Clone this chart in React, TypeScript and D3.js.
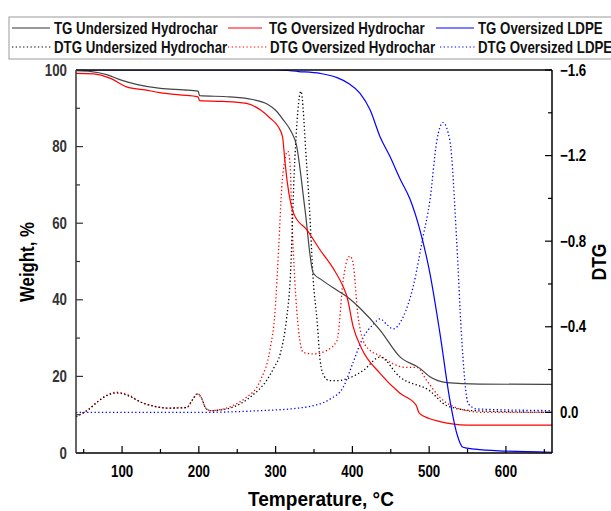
import React from 'react';
import * as d3 from 'd3';

// TG curves (weight %, left axis)
const tempTgUnder = [40, 60, 80, 100, 120, 150, 180, 199, 201, 240, 270, 290, 300, 310, 320, 327, 338, 349, 360, 380, 393, 410, 436, 462, 488, 501, 523, 566, 660];
const tgUnder = [99.8, 99.6, 98.8, 97.3, 96.2, 95.2, 94.8, 94.5, 93.3, 93.0, 92.3, 91.0, 89.5, 87.0, 84.0, 80.5, 64, 47, 45.2, 42.5, 40.8, 37.8, 32.1, 25.1, 22.1, 19.9, 18.4, 18.0, 17.9];

const tempTgOver = [40, 63, 85, 106, 130, 149, 175, 199, 201, 230, 262, 280, 293, 303, 309, 312, 315, 320, 324, 341, 358, 375, 388, 393, 401, 412, 436, 462, 483, 487, 500, 514, 549, 660];
const tgOver = [99.1, 99.0, 97.8, 95.6, 94.8, 94.1, 93.5, 93.0, 92.0, 91.8, 91.3, 89.6, 87.4, 85.3, 82.6, 76.5, 71, 65, 62.3, 58.2, 53, 48.2, 43.4, 40.8, 33, 27.3, 20.8, 15.6, 12.5, 10.4, 9.0, 8.2, 7.3, 7.3];

const tempTgLdpe = [40, 200, 300, 330, 358, 380, 395, 410, 423, 436, 449, 462, 475, 488, 501, 514, 527, 536, 544, 560, 600, 660];
const tgLdpe = [100, 100, 100, 99.6, 99.1, 98, 96.5, 93.9, 89.6, 82.6, 77.4, 71.6, 66.3, 58.2, 46.9, 31.3, 13.8, 5.1, 1.5, 1.0, 0.5, 0.2];

// DTG curves (right axis)
const tempDtgUnder = [40, 55, 70, 80, 93, 110, 123, 140, 160, 184, 192, 198, 203, 209, 215, 236, 254, 270, 288, 298, 306, 314, 319, 325, 333, 340, 344, 349, 354, 358, 363, 370, 380, 392, 414, 436, 462, 501, 523, 557, 660];
const dtgUnder = [0.02, -0.01, -0.055, -0.078, -0.09, -0.075, -0.05, -0.03, -0.02, -0.022, -0.06, -0.085, -0.07, -0.02, -0.008, -0.016, -0.04, -0.08, -0.148, -0.21, -0.273, -0.43, -0.62, -1.18, -1.5, -1.18, -0.96, -0.617, -0.43, -0.242, -0.17, -0.148, -0.148, -0.156, -0.195, -0.258, -0.164, -0.1, -0.031, -0.008, 0];

const tempDtgOver = [40, 55, 70, 80, 93, 110, 123, 140, 160, 184, 192, 198, 203, 209, 215, 236, 254, 262, 280, 293, 299, 304, 308, 312, 316, 319, 321, 325, 330, 336, 349, 367, 380, 388, 394, 397, 401, 407, 414, 423, 436, 453, 470, 484, 497, 514, 540, 570, 660];
const dtgOver = [0.02, -0.01, -0.055, -0.08, -0.094, -0.078, -0.05, -0.03, -0.02, -0.022, -0.06, -0.088, -0.07, -0.02, -0.008, -0.02, -0.05, -0.07, -0.148, -0.3, -0.46, -0.77, -1.05, -1.18, -1.22, -1.15, -0.93, -0.617, -0.38, -0.28, -0.273, -0.29, -0.336, -0.617, -0.72, -0.73, -0.695, -0.46, -0.336, -0.29, -0.265, -0.227, -0.21, -0.21, -0.148, -0.07, -0.016, 0, 0];

const tempDtgLdpe = [40, 100, 200, 280, 330, 349, 371, 388, 401, 414, 427, 436, 445, 453, 466, 479, 492, 501, 510, 518, 527, 536, 542, 551, 562, 660];
const dtgLdpe = [0, 0, 0, -0.008, -0.02, -0.031, -0.062, -0.117, -0.234, -0.35, -0.41, -0.437, -0.41, -0.39, -0.445, -0.585, -0.82, -0.99, -1.27, -1.354, -1.27, -0.79, -0.367, -0.04, -0.016, -0.008];

const xTicks = [100, 200, 300, 400, 500, 600];
const xMinor = [50, 150, 250, 350, 450, 550, 650];
const yTicks = [0, 20, 40, 60, 80, 100];
const yMinor = [10, 30, 50, 70, 90];
const dTicks = [0, -0.4, -0.8, -1.2, -1.6];
const dMinor = [-0.2, -0.6, -1.0, -1.4];

const FONT = '"Liberation Sans Narrow", "Arial Narrow", "Liberation Sans", Arial, sans-serif';

// narrow bold text: squeeze horizontally around the anchor point
const NText = (p: { x: number; y: number; anchor?: string; size?: number; fill?: string; children: React.ReactNode }) => (
  <text
    transform={`translate(${p.x},${p.y}) scale(0.83,1)`}
    textAnchor={p.anchor || 'start'}
    fontSize={p.size || 16}
    fontWeight="bold"
    fill={p.fill || '#000'}
  >
    {p.children}
  </text>
);

export default function App() {
  const x = d3.scaleLinear().domain([40, 660]).range([76, 552]);
  const yW = d3.scaleLinear().domain([0, 100]).range([453, 70]);
  const yD = d3.scaleLinear().domain([0.19, -1.6]).range([453, 70]);

  const lineW = (ts: number[], vs: number[]) =>
    d3.line<number>().x((t) => x(t)).y((_, i) => yW(vs[i])).curve(d3.curveMonotoneX)(ts) || '';
  const lineD = (ts: number[], vs: number[]) =>
    d3.line<number>().x((t) => x(t)).y((_, i) => yD(vs[i])).curve(d3.curveMonotoneX)(ts) || '';

  const fmtD = (v: number) => (v === 0 ? '0.0' : '\u2212' + Math.abs(v).toFixed(1));
  const dots = '1.3 2.4';

  return (
    <svg width={611} height={511} style={{ position: 'absolute', left: 0, top: 0, background: '#fff' }} fontFamily={FONT}>
      <defs>
        <clipPath id="plot">
          <rect x={76} y={70} width={476} height={383} />
        </clipPath>
      </defs>

      {/* legend */}
      <rect x={9} y={17} width={640} height={42} fill="#fff" stroke="#9a9a9a" strokeWidth={1} />
      <line x1={12} x2={50} y1={28} y2={28} stroke="#333" strokeWidth={1.2} />
      <NText x={54} y={33.5} fill="#111">TG Undersized Hydrochar</NText>
      <line x1={228} x2={262} y1={28} y2={28} stroke="#f00" strokeWidth={1.2} />
      <NText x={269} y={33.5} fill="#111">TG Oversized Hydrochar</NText>
      <line x1={436} x2={474} y1={28} y2={28} stroke="#00f" strokeWidth={1.2} />
      <NText x={478} y={33.5} fill="#111">TG Oversized LDPE</NText>

      <line x1={12} x2={52} y1={47} y2={47} stroke="#000" strokeWidth={1.2} strokeDasharray={dots} />
      <NText x={54} y={52.5} fill="#111">DTG Undersized Hydrochar</NText>
      <line x1={228} x2={268} y1={47} y2={47} stroke="#f00" strokeWidth={1.2} strokeDasharray={dots} />
      <NText x={270} y={52.5} fill="#111">DTG Oversized Hydrochar</NText>
      <line x1={440} x2={476} y1={47} y2={47} stroke="#00f" strokeWidth={1.2} strokeDasharray={dots} />
      <NText x={478} y={52.5} fill="#111">DTG Oversized LDPE</NText>

      {/* data */}
      <g clipPath="url(#plot)" fill="none">
        <path d={lineD(tempDtgLdpe, dtgLdpe)} stroke="#00f" strokeWidth={1.3} strokeDasharray={dots} />
        <path d={lineD(tempDtgOver, dtgOver)} stroke="#f00" strokeWidth={1.3} strokeDasharray={dots} />
        <path d={lineD(tempDtgUnder, dtgUnder)} stroke="#000" strokeWidth={1.3} strokeDasharray={dots} />
        <path d={lineW(tempTgUnder, tgUnder)} stroke="#444" strokeWidth={1.2} />
        <path d={lineW(tempTgOver, tgOver)} stroke="#f00" strokeWidth={1.2} />
        <path d={lineW(tempTgLdpe, tgLdpe)} stroke="#00f" strokeWidth={1.2} />
      </g>

      {/* frame */}
      <line x1={76} x2={552} y1={70} y2={70} stroke="#000" strokeWidth={1.5} />
      <line x1={76} x2={552} y1={453} y2={453} stroke="#000" strokeWidth={1.5} />
      <line x1={76} x2={76} y1={70} y2={453} stroke="#333" strokeWidth={1.5} />
      <line x1={552} x2={552} y1={70} y2={453} stroke="#000" strokeWidth={1.5} />

      {/* x axis */}
      {xTicks.map((t) => (
        <g key={'x' + t}>
          <line x1={x(t)} x2={x(t)} y1={453} y2={446} stroke="#000" strokeWidth={1.2} />
          <NText x={x(t)} y={477} anchor="middle">{t}</NText>
        </g>
      ))}
      {xMinor.map((t) => (
        <line key={'xm' + t} x1={x(t)} x2={x(t)} y1={453} y2={449} stroke="#000" strokeWidth={1.2} />
      ))}

      {/* left axis */}
      {yTicks.map((t) => (
        <g key={'y' + t}>
          <line x1={76} x2={83} y1={yW(t)} y2={yW(t)} stroke="#333" strokeWidth={1.2} />
          <NText x={67} y={yW(t) + 5.5} anchor="end" fill="#333">{t}</NText>
        </g>
      ))}
      {yMinor.map((t) => (
        <line key={'ym' + t} x1={76} x2={80} y1={yW(t)} y2={yW(t)} stroke="#333" strokeWidth={1.2} />
      ))}

      {/* right axis */}
      {dTicks.map((t) => (
        <g key={'d' + t}>
          <line x1={545} x2={552} y1={yD(t)} y2={yD(t)} stroke="#000" strokeWidth={1.2} />
          <NText x={560} y={yD(t) + 5.5}>{fmtD(t)}</NText>
        </g>
      ))}
      {dMinor.map((t) => (
        <line key={'dm' + t} x1={548} x2={552} y1={yD(t)} y2={yD(t)} stroke="#000" strokeWidth={1.2} />
      ))}

      {/* titles */}
      <text x={321} y={506} textAnchor="middle" fontSize={21} fontWeight="bold" fill="#000" textLength={146} lengthAdjust="spacingAndGlyphs">Temperature, °C</text>
      <text transform="translate(34,262) rotate(-90)" textAnchor="middle" fontSize={21} fontWeight="bold" fill="#000" textLength={80} lengthAdjust="spacingAndGlyphs">Weight, %</text>
      <text transform="translate(606,262) rotate(-90)" textAnchor="middle" fontSize={21} fontWeight="bold" fill="#000" textLength={37} lengthAdjust="spacingAndGlyphs">DTG</text>
    </svg>
  );
}
